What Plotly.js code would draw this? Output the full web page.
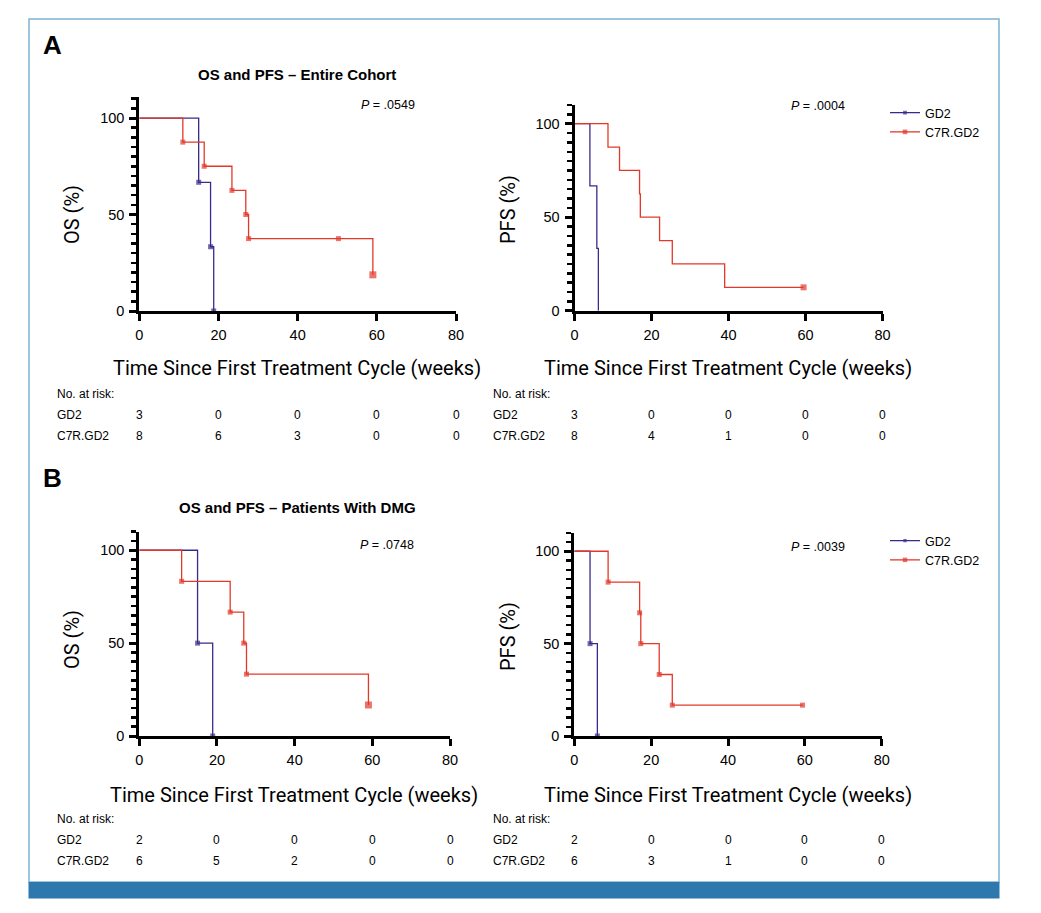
<!DOCTYPE html>
<html>
<head>
<meta charset="utf-8">
<script src="https://cdn.plot.ly/plotly-3.0.1.min.js"></script>
<style>html,body{margin:0;padding:0;background:#fff;}#chart{width:1041px;height:913px;}</style>
</head>
<body>
<div id="chart"></div>
<script>
// ---------------- DATA ----------------
const seriesNames = ["GD2", "C7R.GD2"];
const xTicks = [0, 20, 40, 60, 80];

// A: entire cohort - OS
const osA_gd2_t = [0, 15, 18, 18.8];
const osA_gd2_s = [100, 66.7, 33.3, 0];
const osA_c7r_t = [0, 11, 16.4, 23.4, 26.9, 27.6, 50.3, 59];
const osA_c7r_s = [100, 87.5, 75, 62.5, 50, 37.5, 37.5, 18.75];
// A: entire cohort - PFS
const pfsA_gd2_t = [0, 4, 5.8, 6.2];
const pfsA_gd2_s = [100, 66.7, 33.3, 0];
const pfsA_c7r_t = [0, 8.7, 11.7, 16.9, 17.1, 22.1, 25.4, 39.0, 59.5];
const pfsA_c7r_s = [100, 87.5, 75, 62.5, 50, 37.5, 25, 12.5, 12.5];
// B: DMG - OS
const osB_gd2_t = [0, 15, 18.9];
const osB_gd2_s = [100, 50, 0];
const osB_c7r_t = [0, 10.9, 23.4, 26.9, 27.6, 59.0];
const osB_c7r_s = [100, 83.3, 66.7, 50, 33.3, 16.7];
// B: DMG - PFS
const pfsB_gd2_t = [0, 4.1, 6.0];
const pfsB_gd2_s = [100, 50, 0];
const pfsB_c7r_t = [0, 8.8, 17.0, 17.3, 22.1, 25.5, 59.4];
const pfsB_c7r_s = [100, 83.3, 66.7, 50, 33.3, 16.7, 16.7];

// number at risk at xTicks
const riskA_os_gd2 = [3, 0, 0, 0, 0];
const riskA_os_c7r = [8, 6, 3, 0, 0];
const riskA_pfs_gd2 = [3, 0, 0, 0, 0];
const riskA_pfs_c7r = [8, 4, 1, 0, 0];
const riskB_os_gd2 = [2, 0, 0, 0, 0];
const riskB_os_c7r = [6, 5, 2, 0, 0];
const riskB_pfs_gd2 = [2, 0, 0, 0, 0];
const riskB_pfs_c7r = [6, 3, 1, 0, 0];

const pValues = [".0549", ".0004", ".0748", ".0039"];
const panelTitles = ["OS and PFS \u2013 Entire Cohort", "OS and PFS \u2013 Patients With DMG"];

// ---------------- STYLE ----------------
const W = 1041, H = 913;
const BLUE = "#3a2a8c", RED = "#e2382a";
const px = v => v / W;
const py = v => 1 - v / H;

function sizes(n, mode) {
  const out = [];
  for (let i = 0; i < n; i++) {
    if (i === 0) out.push(0);
    else if (mode === 'last') out.push(i === n - 1 ? 6 : 0);
    else out.push(5);
  }
  return out;
}

function km(t, s, color, name, xa, ya, markMode, legendId, showLeg, bigLast) {
  const sz = sizes(t.length, markMode);
  if (bigLast) sz[sz.length - 1] = 7;
  const tr = {
    x: t, y: s, type: "scatter", mode: markMode === "none" ? "lines" : "lines+markers",
    name: name, legend: legendId, showlegend: showLeg,
    xaxis: xa, yaxis: ya, cliponaxis: false,
    line: {shape: "hv", color: color, width: 1.3},
    hoverinfo: "x+y"
  };
  if (markMode !== "none") tr.marker = {symbol: "square", size: sz, color: color, line: {width: 0}};
  return tr;
}

const traces = [
  km(osA_gd2_t, osA_gd2_s, BLUE, seriesNames[0], "x", "y", "all", "legend", true, false),
  km(osA_c7r_t, osA_c7r_s, RED, seriesNames[1], "x", "y", "all", "legend", true, true),
  km(pfsA_gd2_t, pfsA_gd2_s, BLUE, seriesNames[0], "x2", "y2", "none", "legend", false, false),
  km(pfsA_c7r_t, pfsA_c7r_s, RED, seriesNames[1], "x2", "y2", "last", "legend", false, false),
  km(osB_gd2_t, osB_gd2_s, BLUE, seriesNames[0], "x3", "y3", "all", "legend2", true, false),
  km(osB_c7r_t, osB_c7r_s, RED, seriesNames[1], "x3", "y3", "all", "legend2", true, true),
  km(pfsB_gd2_t, pfsB_gd2_s, BLUE, seriesNames[0], "x4", "y4", "all", "legend2", false, false),
  km(pfsB_c7r_t, pfsB_c7r_s, RED, seriesNames[1], "x4", "y4", "all", "legend2", false, false)
];

const tickFont = {family: "Liberation Sans, Arial, sans-serif", size: 14.5, color: "#000"};
function xAxis(d0, d1, anchor) {
  return {domain: [px(d0), px(d1)], anchor: anchor, range: [0, 80], tickmode: "array", tickvals: xTicks,
    showline: true, linewidth: 3, linecolor: "#000", ticks: "outside", ticklen: 7, tickwidth: 3,
    tickcolor: "#000", showgrid: false, zeroline: false, tickfont: tickFont, ticklabelstandoff: 2, fixedrange: true};
}
function yAxis(top, bottom, maxv, anchor) {
  return {domain: [py(bottom), py(top)], anchor: anchor, range: [0, maxv], tickmode: "array", tickvals: [0, 50, 100],
    showline: true, linewidth: 3, linecolor: "#000", ticks: "outside", ticklen: 7, tickwidth: 3,
    tickcolor: "#000", showgrid: false, zeroline: false, tickfont: tickFont, ticklabelstandoff: 2, fixedrange: true,
    minor: {tickmode: "linear", tick0: 0, dtick: 5, ticks: "outside", ticklen: 5, tickwidth: 2.5, tickcolor: "#000", showgrid: false}};
}

const annotations = [];
function txt(x, y, text, opts) {
  annotations.push(Object.assign({x: x, y: y, xref: "paper", yref: "paper", text: text, showarrow: false,
    xanchor: "center", yanchor: "middle", borderpad: 0, font: {family: "Liberation Sans, Arial, sans-serif", size: 12, color: "#000"}}, opts || {}));
}
// panel letters and titles
txt(px(52.7), py(45), "<b>A</b>", {font: {family: "Liberation Sans, Arial, sans-serif", size: 26, color: "#000"}});
txt(px(52.7), py(478), "<b>B</b>", {font: {family: "Liberation Sans, Arial, sans-serif", size: 26, color: "#000"}});
txt(px(297), py(75), "<b>" + panelTitles[0] + "</b>", {font: {family: "Liberation Sans, Arial, sans-serif", size: 15, color: "#000"}});
txt(px(297), py(508), "<b>" + panelTitles[1] + "</b>", {font: {family: "Liberation Sans, Arial, sans-serif", size: 15, color: "#000"}});
// p-values
const pPos = [[388, 105], [818, 106], [387, 545], [818, 547]];
pValues.forEach((p, i) => txt(px(pPos[i][0]), py(pPos[i][1]), "<i>P</i> = " + p, {font: {family: "Liberation Sans, Arial, sans-serif", size: 12.5, color: "#000"}}));
// axis titles
const axFont = {family: "Roboto, Liberation Sans, sans-serif", size: 20, color: "#000"};
const xTitle = "Time Since First Treatment Cycle (weeks)";
txt(px(297), py(368), xTitle, {font: axFont});
txt(px(728), py(368), xTitle, {font: axFont});
txt(px(294), py(795), xTitle, {font: axFont});
txt(px(728), py(795), xTitle, {font: axFont});
txt(px(72), py(215), "OS (%)", {font: axFont, textangle: -90});
txt(px(508), py(210), "PFS (%)", {font: axFont, textangle: -90});
txt(px(72), py(640), "OS (%)", {font: axFont, textangle: -90});
txt(px(508), py(637), "PFS (%)", {font: axFont, textangle: -90});

// at-risk tables
function riskTable(xref, labelX, yTop, gd2, c7r) {
  txt(px(labelX), py(yTop), "No. at risk:", {xanchor: "left"});
  txt(px(labelX), py(yTop + 21), seriesNames[0], {xanchor: "left"});
  txt(px(labelX), py(yTop + 42), seriesNames[1], {xanchor: "left"});
  xTicks.forEach((t, i) => {
    annotations.push({x: t, y: py(yTop + 21), xref: xref, yref: "paper", text: String(gd2[i]), showarrow: false,
      xanchor: "center", yanchor: "middle", font: {family: "Liberation Sans, Arial, sans-serif", size: 12, color: "#000"}});
    annotations.push({x: t, y: py(yTop + 42), xref: xref, yref: "paper", text: String(c7r[i]), showarrow: false,
      xanchor: "center", yanchor: "middle", font: {family: "Liberation Sans, Arial, sans-serif", size: 12, color: "#000"}});
  });
}
riskTable("x", 56, 394, riskA_os_gd2, riskA_os_c7r);
riskTable("x2", 492, 394, riskA_pfs_gd2, riskA_pfs_c7r);
riskTable("x3", 56, 819, riskB_os_gd2, riskB_os_c7r);
riskTable("x4", 492, 819, riskB_pfs_gd2, riskB_pfs_c7r);

const legendFont = {family: "Liberation Sans, Arial, sans-serif", size: 12.5, color: "#000"};
const layout = {
  width: W, height: H, margin: {l: 0, r: 0, t: 0, b: 0},
  paper_bgcolor: "#fff", plot_bgcolor: "rgba(0,0,0,0)",
  showlegend: true,
  xaxis: xAxis(139.3, 456, "y"),
  yaxis: yAxis(96.8, 311, 111, "x"),
  xaxis2: xAxis(574.5, 882.5, "y2"),
  yaxis2: yAxis(105, 310.7, 110, "x2"),
  xaxis3: xAxis(139.3, 450, "y3"),
  yaxis3: yAxis(531.7, 736, 110, "x3"),
  xaxis4: xAxis(574.3, 881.7, "y4"),
  yaxis4: yAxis(532.8, 736, 110, "x4"),
  legend: {x: px(885), y: py(98), xanchor: "left", yanchor: "top", font: legendFont, bgcolor: "rgba(0,0,0,0)",
    borderwidth: 0, tracegroupgap: 0, itemwidth: 30},
  legend2: {x: px(885), y: py(526), xanchor: "left", yanchor: "top", font: legendFont, bgcolor: "rgba(0,0,0,0)",
    borderwidth: 0, tracegroupgap: 0, itemwidth: 30},
  annotations: annotations,
  shapes: [
    {type: "rect", xref: "paper", yref: "paper", x0: px(29), x1: px(999), y0: py(882), y1: py(19),
      line: {color: "#7fb2d6", width: 1.5}, fillcolor: "rgba(0,0,0,0)", layer: "below"},
    {type: "rect", xref: "paper", yref: "paper", x0: px(28.5), x1: px(999.5), y0: py(898.5), y1: py(882),
      line: {width: 0}, fillcolor: "#2e78ae", layer: "below"}
  ]
};

Plotly.newPlot("chart", traces, layout, {displayModeBar: false, staticPlot: true});
</script>
</body>
</html>
